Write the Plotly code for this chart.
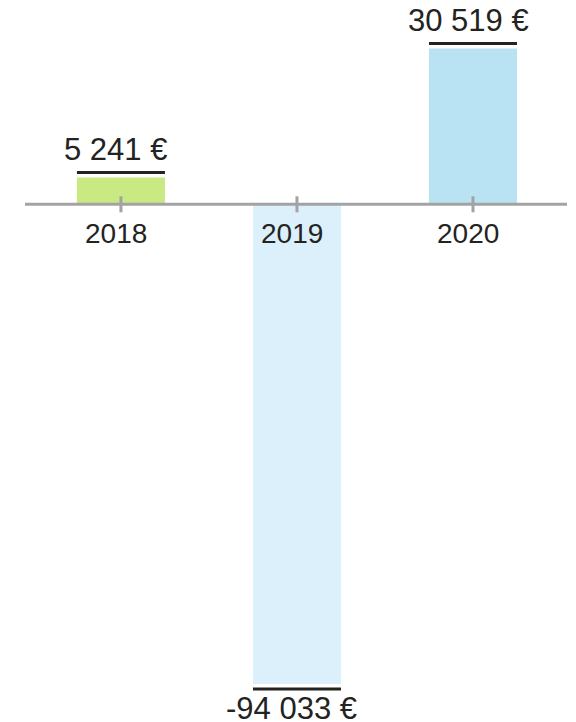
import plotly.graph_objects as go

years = ["2018", "2019", "2020"]
values = [5241, -94033, 30519]
value_labels = ["5 241 €", "-94 033 €", "30 519 €"]
colors = ["#c9e982", "#dbf0fa", "#b9e3f3"]

FONT = "Liberation Sans, Arial, sans-serif"
TEXT = "#23231f"
GRAY = "#a3a3a5"

xs = list(range(len(years)))

fig = go.Figure()
fig.add_trace(go.Bar(
    x=xs, y=values, width=0.5,
    marker=dict(color=colors, line=dict(width=0)),
    hoverinfo="skip", showlegend=False,
))

shapes = []
shapes.append(dict(type="line", xref="paper", yref="y", x0=0, x1=1, y0=0, y1=0,
                   line=dict(color=GRAY, width=3), layer="above"))
annotations = []
for i, (v, lab, yr) in enumerate(zip(values, value_labels, years)):
    shapes.append(dict(type="line", xref="x", yref="y", ysizemode="pixel", yanchor=0,
                       x0=i, x1=i, y0=-8, y1=8,
                       line=dict(color=GRAY, width=3), layer="above"))
    off = 5 if v > 0 else -5
    shapes.append(dict(type="line", xref="x", yref="y", ysizemode="pixel", yanchor=v,
                       x0=i - 0.25, x1=i + 0.25, y0=off, y1=off,
                       line=dict(color=TEXT, width=3), layer="above"))
    annotations.append(dict(
        x=i, y=v, xref="x", yref="y", text=lab, showarrow=False,
        yanchor="bottom" if v > 0 else "top",
        yshift=9 if v > 0 else -5, xshift=-5,
        font=dict(family=FONT, size=31, color=TEXT),
    ))
    annotations.append(dict(
        x=i, y=0, xref="x", yref="y", text=yr, showarrow=False,
        yanchor="top", yshift=-12, xshift=-5,
        font=dict(family=FONT, size=28, color=TEXT),
    ))

fig.update_layout(
    width=576, height=722,
    margin=dict(l=25, r=9, t=0, b=0, pad=0),
    paper_bgcolor="white", plot_bgcolor="white",
    xaxis=dict(range=[-0.545, 2.534], visible=False, fixedrange=True),
    yaxis=dict(range=[-101470, 40050], visible=False, fixedrange=True),
    shapes=shapes, annotations=annotations,
    showlegend=False,
)

fig.write_html("out.html", config={"displayModeBar": False},
               post_script="document.body.style.margin='0';document.body.style.overflow='hidden';")
